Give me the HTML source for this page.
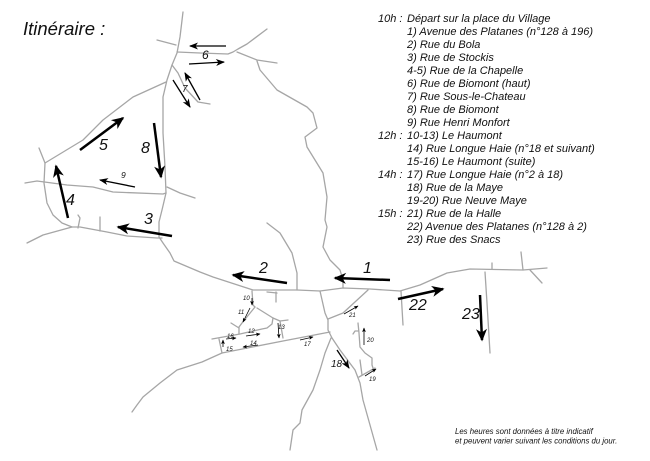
<!DOCTYPE html>
<html>
<head>
<meta charset="utf-8">
<style>
html,body{margin:0;padding:0;background:#fff;}
body{width:650px;height:461px;overflow:hidden;}
svg{display:block;}
text{font-family:"Liberation Sans",Arial,sans-serif;font-style:italic;fill:#111;}
</style>
</head>
<body>
<svg width="650" height="461" viewBox="0 0 650 461" xmlns="http://www.w3.org/2000/svg">
<defs>
<marker id="big" markerUnits="userSpaceOnUse" viewBox="-12 -6 14 12" markerWidth="14" markerHeight="12" refX="0" refY="0" orient="auto">
<path d="M1.5,0 L-11,-5.5 L-7.5,0 L-11,5.5 Z" fill="#000"/>
</marker>
<marker id="med" markerUnits="userSpaceOnUse" viewBox="-9 -4 10 8" markerWidth="10" markerHeight="8" refX="0" refY="0" orient="auto">
<path d="M1,0 L-8,-3.5 L-5.5,0 L-8,3.5 Z" fill="#000"/>
</marker>
<marker id="sm" markerUnits="userSpaceOnUse" viewBox="-5 -2.5 6 5" markerWidth="6" markerHeight="5" refX="0" refY="0" orient="auto">
<path d="M0.5,0 L-4,-1.9 L-3,0 L-4,1.9 Z" fill="#000"/>
</marker>
</defs>

<!-- Roads -->
<g fill="none" stroke="#a6a6a6" stroke-width="1.3" stroke-linejoin="round" stroke-linecap="round">
<polyline points="183,12 180,37 177,53 172,65 167,80 163,97 163,133 165,167 166,193 162,210 159,222 159,237 163,243 170,253 174,261 200,272 213,277 253,290 297,290 320,291 343,288 370,289 400,291 420,285 447,273 470,269 523,270 547,268"/>
<polyline points="157,40 176,45"/>
<polyline points="177,52 200,53 228,54 233,52 238,49 247,44 267,29"/>
<polyline points="237,52 257,60 277,63"/>
<polyline points="257,61 260,70 277,90 307,107 313,113 317,128 305,137 307,147 323,173 327,197 325,220 327,227 323,247 330,260 340,270 343,280 343,288"/>
<polyline points="172,65 178,73 185,88 198,102 210,104"/>
<polyline points="166,82 133,97 103,120 83,140 45,163"/>
<polyline points="39,148 45,163 44,183 47,203 53,215 62,223 72,227"/>
<polyline points="25,183 37,181 67,185 93,187 113,192 163,194 166,193"/>
<polyline points="167,187 180,193 195,198"/>
<polyline points="27,243 43,235 72,227 80,227 107,232 127,236 157,238 162,238"/>
<polyline points="78,228 80,218 78,215"/>
<polyline points="100,231 100,217"/>
<polyline points="267,223 280,233 292,253 297,273 297,290"/>
<polyline points="401,291 403,325"/>
<polyline points="492,263 492,269"/>
<polyline points="521,252 523,270"/>
<polyline points="530,270 542,283"/>
<polyline points="485,272 487,303 490,353"/>
<polyline points="320,291 325,313 328,320 328,330 332,338 340,350 355,370 360,383 363,400 377,450"/>
<polyline points="328,319 343,313 368,290"/>
<polyline points="330,332 283,341 222,353 202,362 177,370 160,383 143,397 137,405 132,412"/>
<polyline points="331,338 325,353 320,370 313,390 302,410 300,423 293,430 290,450"/>
<!-- Haumont -->
<polyline points="252,291 253,305 255,307"/>
<polyline points="255,307 242,323 239,327 239,334"/>
<polyline points="231,323 239,328"/>
<polyline points="257,308 273,318 280,321 288,320"/>
<polyline points="273,318 272,324 267,328 262,329 240,334 212,339"/>
<polyline points="280,321 283,338"/>
<polyline points="219,339 222,353"/>
<polyline points="267,292 277,293"/>
<polyline points="276,292 276,302"/>
<!-- Maye -->
<polyline points="358,323 359,333 360,347 365,353 372,358 372,365 373,368"/>
<polyline points="353,334 355,331 358,331"/>
<polyline points="359,377 375,368"/>
<polyline points="360,360 362,375"/>
</g>

<!-- Big arrows -->
<g stroke="#000" stroke-width="2.5" fill="none" marker-end="url(#big)">
<line x1="390" y1="280" x2="335" y2="278"/>
<line x1="287" y1="283" x2="233" y2="275"/>
<line x1="172" y1="236" x2="118" y2="227"/>
<line x1="68" y1="218" x2="56" y2="166"/>
<line x1="80" y1="150" x2="123" y2="118"/>
<line x1="154" y1="123" x2="161" y2="177"/>
<line x1="398" y1="299" x2="443" y2="289"/>
<line x1="480" y1="295" x2="482" y2="340"/>
</g>

<!-- Medium arrows -->
<g stroke="#000" stroke-width="1.3" fill="none" marker-end="url(#med)">
<line x1="226" y1="46" x2="190" y2="46"/>
<line x1="189" y1="64" x2="224" y2="62"/>
<line x1="173" y1="80" x2="190" y2="107"/>
<line x1="200" y1="100" x2="185" y2="73"/>
<line x1="135" y1="187" x2="100" y2="180"/>
<line x1="337" y1="350" x2="349" y2="368"/>
</g>

<!-- Small arrows -->
<g stroke="#000" stroke-width="0.8" fill="none" marker-end="url(#sm)">
<line x1="252" y1="298" x2="252" y2="305"/>
<line x1="250" y1="308" x2="243" y2="322"/>
<line x1="246" y1="336" x2="260" y2="334"/>
<line x1="278" y1="323" x2="279" y2="338"/>
<line x1="258" y1="345" x2="243" y2="347"/>
<line x1="226" y1="339" x2="236" y2="338"/>
<line x1="223" y1="347" x2="223" y2="340"/>
<line x1="300" y1="340" x2="313" y2="337"/>
<line x1="365" y1="376" x2="376" y2="369"/>
<line x1="364" y1="345" x2="364" y2="328"/>
<line x1="344" y1="314" x2="358" y2="306"/>
</g>

<!-- Title -->
<text x="23" y="35" font-size="18.5">Itinéraire :</text>

<!-- Big labels -->
<g font-size="16">
<text x="363" y="273">1</text>
<text x="259" y="273">2</text>
<text x="144" y="224">3</text>
<text x="66" y="205">4</text>
<text x="99" y="150">5</text>
<text x="141" y="153">8</text>
<text x="409" y="310">22</text>
<text x="462" y="319">23</text>
</g>
<text x="202" y="59" font-size="12">6</text>
<text x="182" y="92" font-size="10">7</text>
<text x="121" y="178" font-size="8.5">9</text>
<text x="331" y="367" font-size="10">18</text>

<!-- Small labels -->
<g font-size="6">
<text x="243" y="300">10</text>
<text x="238" y="314">11</text>
<text x="248" y="333">12</text>
<text x="278" y="329">13</text>
<text x="250" y="345">14</text>
<text x="227" y="338">16</text>
<text x="226" y="351">15</text>
<text x="304" y="346">17</text>
<text x="349" y="317">21</text>
<text x="367" y="342">20</text>
<text x="369" y="381">19</text>
</g>

<!-- Legend -->
<g font-size="11">
<text x="378" y="22">10h :</text><text x="407" y="22">Départ sur la place du Village</text>
<text x="407" y="35">1) Avenue des Platanes (n°128 à 196)</text>
<text x="407" y="48">2) Rue du Bola</text>
<text x="407" y="61">3) Rue de Stockis</text>
<text x="407" y="74">4-5) Rue de la Chapelle</text>
<text x="407" y="87">6) Rue de Biomont (haut)</text>
<text x="407" y="100">7) Rue Sous-le-Chateau</text>
<text x="407" y="113">8) Rue de Biomont</text>
<text x="407" y="126">9) Rue Henri Monfort</text>
<text x="378" y="139">12h :</text><text x="407" y="139">10-13) Le Haumont</text>
<text x="407" y="152">14) Rue Longue Haie (n°18 et suivant)</text>
<text x="407" y="165">15-16) Le Haumont (suite)</text>
<text x="378" y="178">14h :</text><text x="407" y="178">17) Rue Longue Haie (n°2 à 18)</text>
<text x="407" y="191">18) Rue de la Maye</text>
<text x="407" y="204">19-20) Rue Neuve Maye</text>
<text x="378" y="217">15h :</text><text x="407" y="217">21) Rue de la Halle</text>
<text x="407" y="230">22) Avenue des Platanes (n°128 à 2)</text>
<text x="407" y="243">23) Rue des Snacs</text>
</g>

<!-- Footnote -->
<g font-size="7.8">
<text x="455" y="434">Les heures sont données à titre indicatif</text>
<text x="455" y="443.5">et peuvent varier suivant les conditions du jour.</text>
</g>
</svg>
</body>
</html>
